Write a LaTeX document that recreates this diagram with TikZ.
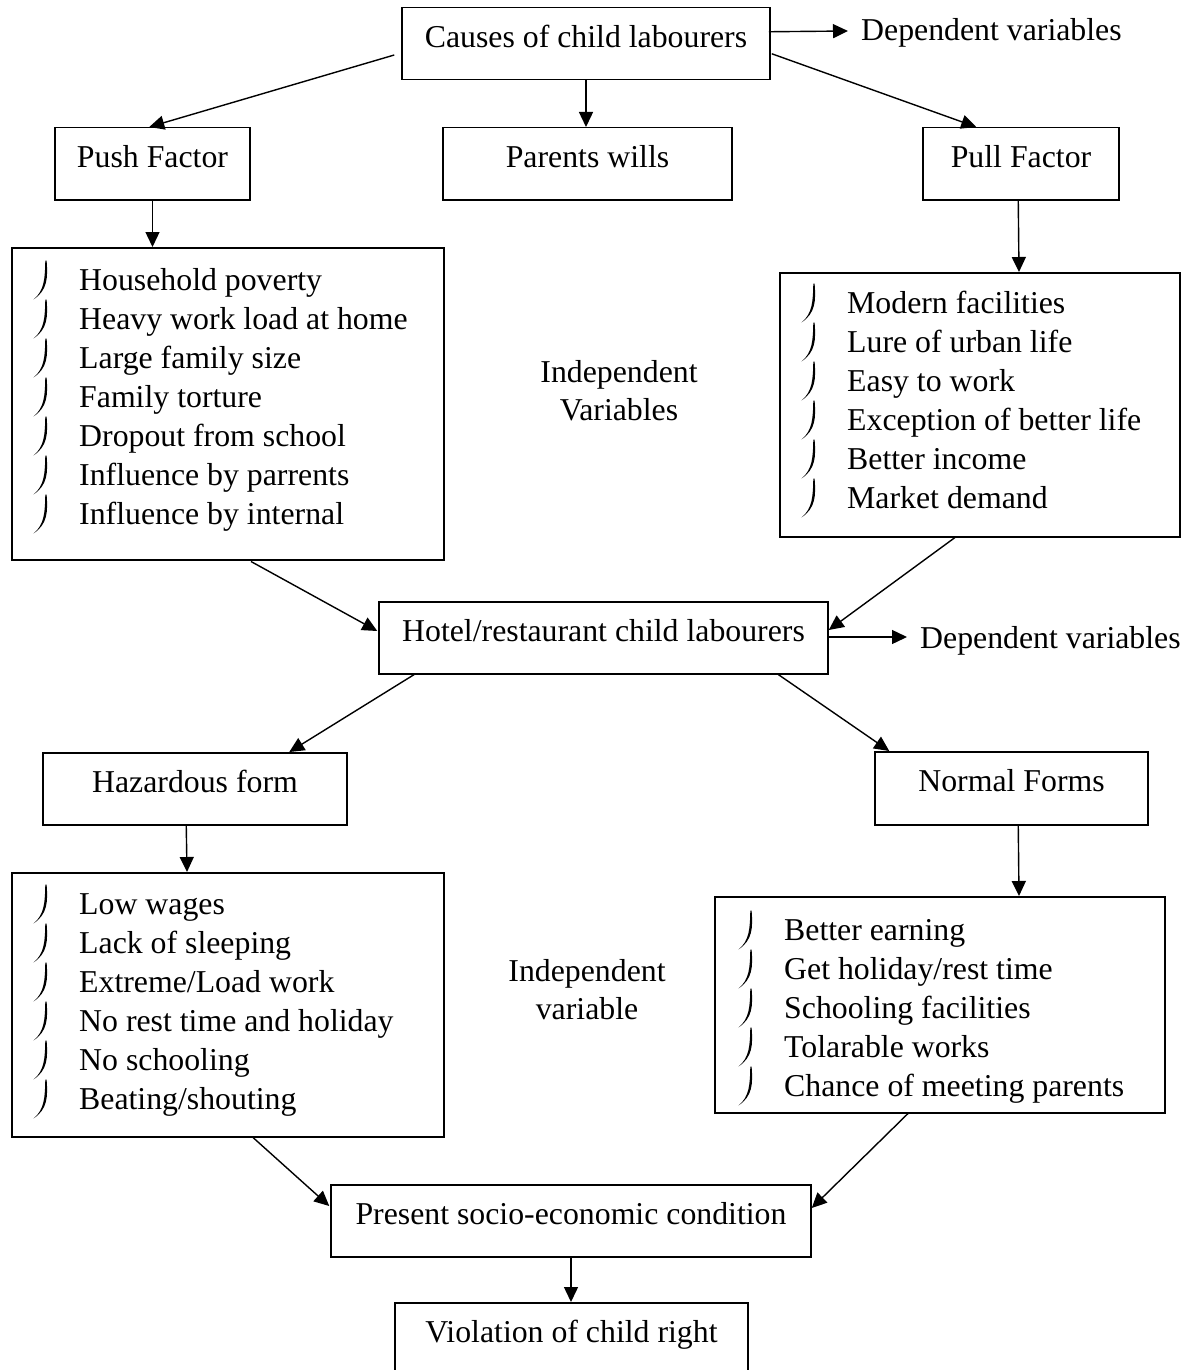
\documentclass[tikz,border=0pt]{standalone}
\usepackage{fontspec}
\setmainfont{Liberation Serif}
\usetikzlibrary{arrows.meta,calc}
\newcommand\mfs{\fontsize{31.8pt}{38pt}\selectfont}
\tikzset{
 onebox/.style={draw, line width=1.5pt, inner xsep=0pt, inner ysep=0pt, font=\mfs, text height=40pt, anchor=north},
 lst/.style={draw, line width=1.5pt, anchor=north west, inner sep=0pt},
 listitem/.style={font=\mfs, anchor=base west, inner sep=0pt},
 lbl/.style={font=\mfs, inner sep=0pt},
 arr/.style={line width=1.4pt, -{Triangle[length=15pt,width=14pt]}},
 bulletmark/.pic={\fill (0.6,-29.5) .. controls (1.9,-12) and (1.6,0) .. (-12.5,9.5) .. controls (-1.4,0.5) and (-1.1,-12) .. (-0.7,-29.5) -- cycle;}
}
\begin{document}
\begin{tikzpicture}[x=1pt,y=-1pt]
\useasboundingbox (0,0) rectangle (1195,1370);
\clip (0,0) rectangle (1195,1370);

% single boxes
\node[onebox, minimum width=368pt, text depth=32pt] (causes) at (586,7) {Causes of child labourers};
\node[onebox, minimum width=195pt, text depth=32pt] (push) at (152.5,127) {Push Factor};
\node[onebox, minimum width=289pt, text depth=32pt] (parents) at (587.5,127) {Parents wills};
\node[onebox, minimum width=196pt, text depth=32pt] (pull) at (1021,127) {Pull Factor};
\node[onebox, minimum width=449pt, text depth=32pt] (hotel) at (603.5,601) {Hotel/restaurant child labourers};
\node[onebox, minimum width=304pt, text depth=32pt] (haz) at (195,752) {Hazardous form};
\node[onebox, minimum width=273pt, text depth=33pt] (normal) at (1011.5,751) {Normal Forms};
\node[onebox, minimum width=480pt, text depth=32pt] (present) at (571,1184) {Present socio-economic condition};
\node[onebox, minimum width=353pt, text depth=40pt] (violation) at (571.5,1302) {Violation of child right};

% list boxes
\node[lst, minimum width=432pt, minimum height=312pt] (pushlist) at (11,247) {};
\node[lst, minimum width=400pt, minimum height=264pt] (pulllist) at (779,272) {};
\node[lst, minimum width=432pt, minimum height=264pt] (hazlist) at (11,872) {};
\node[lst, minimum width=450pt, minimum height=216pt] (normlist) at (714,896) {};

% list items
\foreach \t [count=\i from 0] in {Household poverty, Heavy work load at home, Large family size, Family torture, Dropout from school, Influence by parrents, Influence by internal}{
  \node[listitem] (pushitem-\i) at (79, 290+39*\i) {\t};
  \pic at (46, 290+39*\i) {bulletmark};
}
\foreach \t [count=\i from 0] in {Modern facilities, Lure of urban life, Easy to work, Exception of better life, Better income, Market demand}{
  \node[listitem] (pullitem-\i) at (847, 313+39*\i) {\t};
  \pic at (814, 313+39*\i) {bulletmark};
}
\foreach \t [count=\i from 0] in {Low wages, Lack of sleeping, Extreme/Load work, No rest time and holiday, No schooling, Beating/shouting}{
  \node[listitem] (hazitem-\i) at (79, 914+39*\i) {\t};
  \pic at (46, 914+39*\i) {bulletmark};
}
\foreach \t [count=\i from 0] in {Better earning, Get holiday/rest time, Schooling facilities, Tolarable works, Chance of meeting parents}{
  \node[listitem] (normitem-\i) at (784, 940+39*\i) {\t};
  \pic at (751, 940+39*\i) {bulletmark};
}

% free labels
\node[lbl, anchor=base west] (dep1) at (861,41) {Dependent variables};
\node[lbl, anchor=base west] (dep2) at (920,648) {Dependent variables};
\node[lbl, align=center, anchor=base] (indep1) at (619,420) {Independent\\Variables};
\node[lbl, align=center, anchor=base] (indep2) at (587,1019) {Independent\\variable};

% connectors
\draw[arr] ($(causes.north west)+(-7,48)$) -- ($(push.north west)+(95,0)$);
\draw[arr] (causes.south) -- (causes.south |- parents.north);
\draw[arr] ($(causes.east)+(1,10)$) -- ($(pull.north west)+(54,0)$);
\draw[arr] ($(causes.east)+(-2,-12)$) -- ($(dep1.base west)+(-13,-10)$);
\draw[arr] (push.south) -- (push.south |- pushlist.north);
\draw[arr] ($(pull.south west)+(96,0)$) -- ($(pulllist.north west)+(240,0)$);
\draw[arr] ($(pushlist.south west)+(240,1)$) -- ($(hotel.north west)+(-1,30)$);
\draw[arr] ($(pulllist.south west)+(176,0)$) -- ($(hotel.north east)+(0,29)$);
\draw[arr] ($(hotel.north east)+(0,36)$) -- ($(dep2.base west)+(-13,-11)$);
\draw[arr] ($(hotel.south west)+(36,0)$) -- ($(haz.north west)+(247,0)$);
\draw[arr] ($(hotel.south west)+(400,0)$) -- ($(normal.north west)+(15,0)$);
\draw[arr] ($(haz.south west)+(144,0)$) -- ($(hazlist.north west)+(176,0)$);
\draw[arr] ($(normal.south west)+(144,0)$) -- ($(normlist.north west)+(305,0)$);
\draw[arr] ($(hazlist.south west)+(242,0)$) -- ($(present.north west)+(-1,22)$);
\draw[arr] ($(normlist.south west)+(194,0)$) -- ($(present.north east)+(0,24)$);
\draw[arr] (present.south) -- (present.south |- violation.north);
\end{tikzpicture}
\end{document}
